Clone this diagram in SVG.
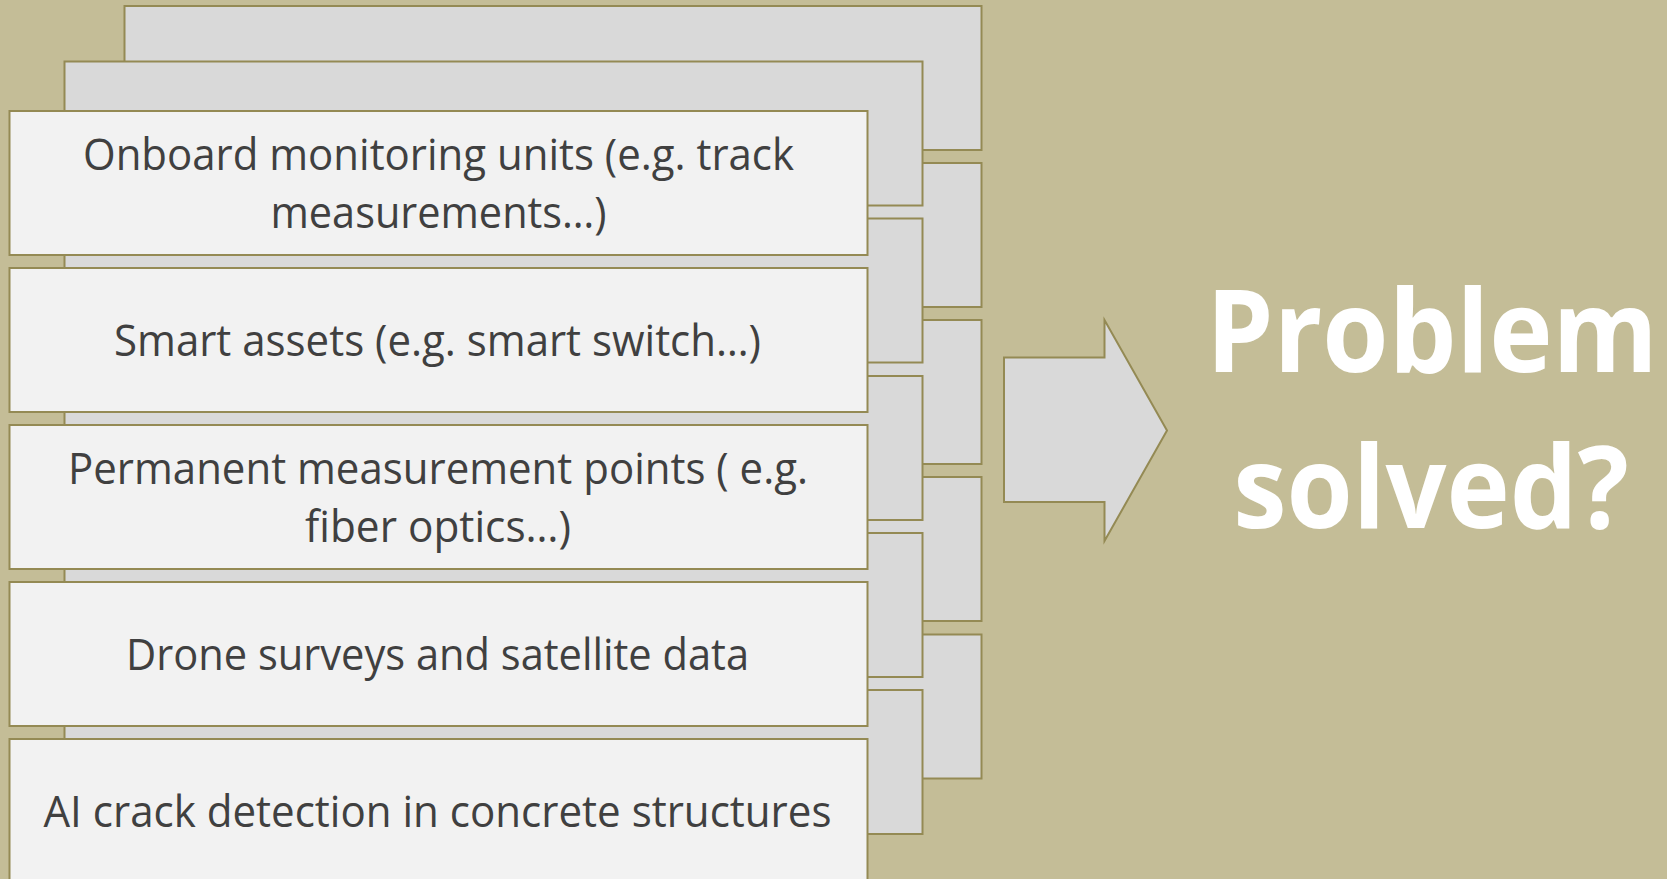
<svg xmlns="http://www.w3.org/2000/svg" width="1667" height="879" viewBox="0 0 1667 879">
<style>
.back{fill:#D9D9D9;stroke:#948A54;stroke-width:2}
.front{fill:#F2F2F2;stroke:#948A54;stroke-width:2}
.lbl{font-family:"Open Sans","Liberation Sans",sans-serif;font-size:43px;fill:#404040;text-anchor:middle}
.big{font-family:"Open Sans","Liberation Sans",sans-serif;font-weight:bold;font-size:114px;fill:#FFFFFF;text-anchor:middle}
</style>
<rect x="0" y="0" width="1667" height="879" fill="#C4BD97"/>
<g id="layer3">
<g id="b3-1"><rect class="back" x="124.5" y="6" width="857" height="144"/></g>
<g id="b3-2"><rect class="back" x="124.5" y="163" width="857" height="144"/></g>
<g id="b3-3"><rect class="back" x="124.5" y="320" width="857" height="144"/></g>
<g id="b3-4"><rect class="back" x="124.5" y="477" width="857" height="144"/></g>
<g id="b3-5"><rect class="back" x="124.5" y="634.5" width="857" height="144"/></g>
</g>
<g id="layer2">
<g id="b2-1"><rect class="back" x="64.5" y="61.5" width="858" height="144"/></g>
<g id="b2-2"><rect class="back" x="64.5" y="218.5" width="858" height="144"/></g>
<g id="b2-3"><rect class="back" x="64.5" y="376" width="858" height="144"/></g>
<g id="b2-4"><rect class="back" x="64.5" y="533" width="858" height="144"/></g>
<g id="b2-5"><rect class="back" x="64.5" y="690" width="858" height="144"/></g>
</g>
<g id="layer1">
<g id="n1"><rect class="front" x="9.5" y="111" width="858" height="144"/>
<text class="lbl" x="438.5" y="170" textLength="711" lengthAdjust="spacingAndGlyphs">Onboard monitoring units (e.g. track</text>
<text class="lbl" x="438.5" y="228" textLength="336" lengthAdjust="spacingAndGlyphs">measurements…)</text></g>
<g id="n2"><rect class="front" x="9.5" y="268" width="858" height="144"/>
<text class="lbl" x="437.5" y="356" textLength="647" lengthAdjust="spacingAndGlyphs">Smart assets (e.g. smart switch…)</text></g>
<g id="n3"><rect class="front" x="9.5" y="425" width="858" height="144"/>
<text class="lbl" x="438" y="484" textLength="740" lengthAdjust="spacingAndGlyphs">Permanent measurement points ( e.g.</text>
<text class="lbl" x="438" y="542" textLength="266" lengthAdjust="spacingAndGlyphs">fiber optics…)</text></g>
<g id="n4"><rect class="front" x="9.5" y="582" width="858" height="144"/>
<text class="lbl" x="437.5" y="670" textLength="623" lengthAdjust="spacingAndGlyphs">Drone surveys and satellite data</text></g>
<g id="n5"><rect class="front" x="9.5" y="739" width="858" height="144"/>
<text class="lbl" x="437.5" y="827" textLength="788" lengthAdjust="spacingAndGlyphs">AI crack detection in concrete structures</text></g>
</g>
<g id="connectors">
<g id="arrow"><polygon points="1004,357.5 1104.5,357.5 1104.5,320 1167,430.5 1104.5,541 1104.5,502 1004,502" fill="#D9D9D9" stroke="#948A54" stroke-width="2"/></g>
</g>
<g id="result">
<text class="big" transform="translate(1432,372) scale(0.94,1)" x="0" y="0">Problem</text>
<text class="big" transform="translate(1431,528) scale(0.94,1)" x="0" y="0">solved?</text>
</g>
</svg>
